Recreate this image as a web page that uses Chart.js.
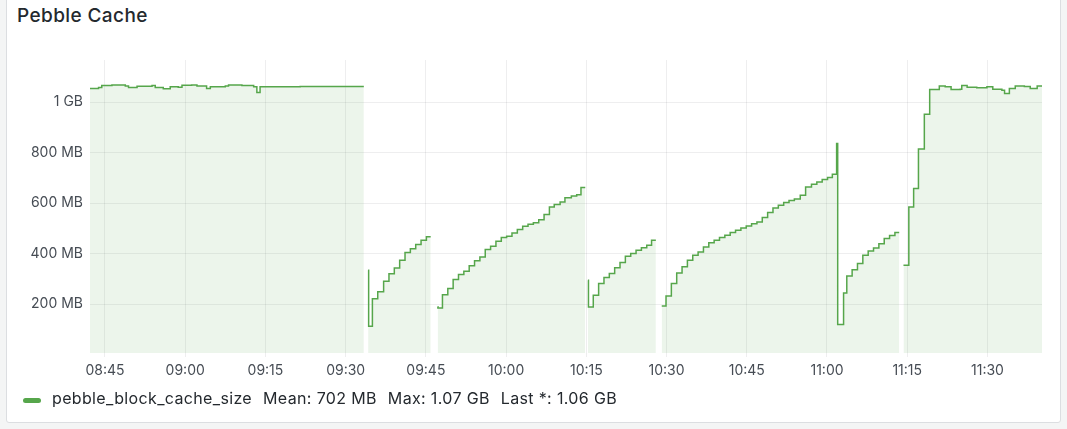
<!DOCTYPE html>
<html>
<head>
<meta charset="utf-8">
<script src="https://cdn.jsdelivr.net/npm/chart.js@4/dist/chart.umd.min.js"></script>
<style>
  body { margin: 0; background: #f4f5f5; font-family: Inter, "Open Sans", sans-serif; }
  #panel { position: absolute; left: 6px; top: -4px; width: 1053px; height: 425px; background: #fff; border: 1px solid #dcdee1; border-radius: 3px; }
  #title { position: absolute; left: 17px; top: 4px; font-size: 19px; font-weight: 500; letter-spacing: 0.4px; color: #24292e; }
  #chart { position: absolute; left: 8px; top: 40px; }
  #swatch { position: absolute; left: 23px; top: 398px; width: 18px; height: 5px; border-radius: 3px; background: #56a64b; }
  #legend { position: absolute; left: 52px; top: 388px; font-size: 16px; letter-spacing: 0.35px; color: #24292e; white-space: nowrap; }
  #legend span + span { margin-left: 11px; }
</style>
</head>
<body>
<div id="panel"></div>
<div id="title">Pebble Cache</div>
<canvas id="chart" width="1050" height="353"></canvas>
<div id="swatch"></div>
<div id="legend"></div>
<script>
// minutes after 08:45, null = no data (gap)
var startMinute = 8 * 60 + 45;
var minutesAfter = [
  -2.8, -1.2, -0.6, 1.3, 3.8, 4.4, 6.0, 8.8, 9.4, 10.9, 12.2, 13.7, 14.4, 16.2, 17.2, 19.0, 19.7, 22.5, 23.1, 25.6, 27.8, 28.4, 29.0, 31.8, 36.5, 48.4,
  48.9,
  49.2, 49.3, 50.0, 51.0, 52.1, 53.1, 54.1, 55.1, 56.1, 57.1, 58.1, 59.1, 60.1, 60.9,
  61.5,
  62.2, 62.25, 63.1, 64.1, 65.1, 66.1, 67.1, 68.1, 69.1, 70.1, 71.1, 72.1, 73.1, 74.1, 75.1, 76.1, 77.1, 78.1, 79.1, 80.1, 81.1, 82.1, 83.1, 84.0, 85.1, 86.0, 87.2, 88.2, 89.0, 89.8,
  90.05,
  90.3, 90.4, 91.3, 92.3, 93.3, 94.3, 95.3, 96.3, 97.3, 98.3, 99.3, 100.3, 101.3, 102.2, 103.0,
  103.5,
  104.1, 104.9, 105.9, 106.9, 107.9, 108.9, 109.9, 110.9, 111.9, 112.9, 113.9, 114.9, 115.9, 116.9, 117.9, 118.9, 119.9, 120.9, 121.9, 122.9, 123.9, 124.9, 125.9, 126.9, 127.9, 128.9, 130.0, 131.0, 132.1, 133.1, 134.1, 135.1, 136.0, 136.8, 137.0, 138.1, 138.7, 139.7, 140.7, 141.7, 142.7, 143.7, 144.7, 145.7, 146.7, 147.7, 148.5,
  148.9,
  149.3, 150.3, 151.2, 152.1, 153.2, 154.2, 156.0, 157.1, 158.2, 159.9, 160.2, 161.2, 163.0, 164.9, 166.0, 167.7, 168.2, 169.1, 170.2, 171.9, 173.0, 174.3, 175.2
];
// MB
var cacheSize = [
  1054, 1058, 1066, 1068, 1064, 1058, 1063, 1066, 1058, 1053, 1061, 1059, 1067, 1068, 1064, 1054, 1061, 1064, 1068, 1066, 1061, 1038, 1061, 1061, 1062, 1062,
  null,
  335, 113, 222, 249, 291, 321, 344, 374, 405, 420, 437, 453, 467, 467,
  null,
  190, 185, 238, 262, 298, 318, 331, 352, 372, 387, 417, 430, 449, 464, 469, 482, 496, 509, 517, 523, 535, 555, 585, 595, 605, 622, 629, 634, 662, 662,
  null,
  295, 189, 236, 282, 306, 322, 345, 365, 390, 401, 414, 424, 434, 453, 453,
  null,
  193, 233, 282, 324, 348, 374, 394, 407, 427, 443, 453, 464, 473, 484, 493, 502, 510, 519, 526, 543, 563, 581, 592, 603, 611, 617, 632, 664, 675, 684, 694, 702, 715, 836, 120, 245, 312, 337, 361, 394, 411, 423, 440, 460, 472, 484, 484,
  null,
  354, 585, 658, 815, 952, 1050, 1064, 1061, 1050, 1051, 1066, 1059, 1057, 1061, 1051, 1047, 1034, 1054, 1064, 1062, 1054, 1064, 1063
];
var timeTicks = ['08:45', '09:00', '09:15', '09:30', '09:45', '10:00', '10:15', '10:30', '10:45', '11:00', '11:15', '11:30'];
var sizeTicks = [200, 400, 600, 800, 1000];
var seriesName = 'pebble_block_cache_size';
var legendStats = ['Mean: 702 MB', 'Max: 1.07 GB', 'Last *: 1.06 GB'];

function toMinute(s) {
  var p = s.split(':');
  return +p[0] * 60 + +p[1];
}
function toClock(m) {
  var h = Math.floor(m / 60), mm = Math.round(m % 60);
  return (h < 10 ? '0' : '') + h + ':' + (mm < 10 ? '0' : '') + mm;
}

var points = [];
for (var i = 0; i < minutesAfter.length; i++) {
  points.push({ x: startMinute + minutesAfter[i], y: cacheSize[i] });
}

Chart.defaults.font.family = 'Inter, "Open Sans", sans-serif';
Chart.defaults.font.size = 14;
Chart.defaults.color = '#464c54';

var ctx = document.getElementById('chart').getContext('2d');
var chart = new Chart(ctx, {
  type: 'line',
  data: {
    datasets: [{
      label: seriesName,
      data: points,
      borderColor: '#56a64b',
      backgroundColor: 'rgba(86,166,75,0.11)',
      borderWidth: 1.5,
      pointRadius: 0,
      stepped: true,
      fill: 'origin',
      spanGaps: false
    }]
  },
  options: {
    responsive: false,
    animation: false,
    devicePixelRatio: 1,
    layout: { padding: { top: 20, right: 16, bottom: 0, left: 0 } },
    plugins: { legend: { display: false }, tooltip: { enabled: false } },
    scales: {
      x: {
        type: 'linear',
        min: startMinute - 2.8,
        max: startMinute + 175.2,
        afterBuildTicks: function (s) {
          s.ticks = timeTicks.map(function (t) { return { value: toMinute(t) }; });
        },
        afterFit: function (s) { s.height = 40; },
        ticks: {
          autoSkip: false,
          maxRotation: 0,
          padding: 5,
          callback: function (v) { return toClock(v); }
        },
        grid: { color: 'rgba(36,41,46,0.08)', tickLength: 4 },
        border: { display: false }
      },
      y: {
        min: 7,
        max: 1167,
        afterBuildTicks: function (s) {
          s.ticks = sizeTicks.map(function (v) { return { value: v }; });
        },
        afterFit: function (s) { s.width = 82; },
        ticks: {
          padding: 7,
          callback: function (v) { return v >= 1000 ? (v / 1000) + ' GB' : v + ' MB'; }
        },
        grid: { color: 'rgba(36,41,46,0.08)', drawTicks: false },
        border: { display: false }
      }
    }
  }
});

var parts = [seriesName].concat(legendStats);
document.getElementById('legend').innerHTML = parts.map(function (p) {
  return '<span>' + p + '</span>';
}).join('');
</script>
</body>
</html>
